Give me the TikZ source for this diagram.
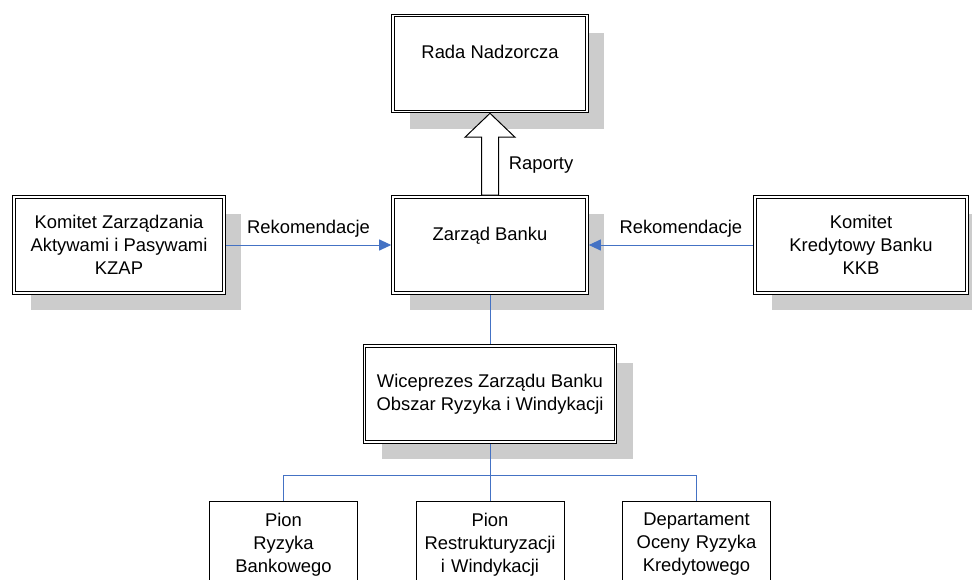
\documentclass[tikz,border=0pt]{standalone}
\usepackage{fontspec}
\setmainfont{Liberation Sans}
\usetikzlibrary{shadows, calc, arrows.meta}
\tikzset{>={Triangle[length=12pt, width=11pt]}}
\definecolor{linkblue}{RGB}{68,114,196}
\tikzset{
    box/.style={draw, line width=1pt, double=white, double distance=1.6pt, fill=white, outer sep=1.8pt,
        align=center, minimum height=96pt,
        drop shadow={shadow xshift=17pt, shadow yshift=-17pt, fill=black!20, opacity=1}},
    unit/.style={draw, line width=1pt, fill=white, align=center, anchor=north, text width=140pt,
        inner ysep=11.5pt, minimum width=148pt},
    link/.style={linkblue, line width=1pt},
}

\begin{document}
\begin{tikzpicture}[x=1pt, y=-1pt, font=\fontsize{18.4}{23}\selectfont]
    \useasboundingbox (0,0) rectangle (972,579);
    \clip (0,0) rectangle (972,579);
    \node [box, minimum width=194pt] (rada) at (490,63.5) {Rada Nadzorcza\\\mbox{}};
    \node [box, minimum width=194pt] (zarzad) at (490,245) {Zarząd Banku\\\mbox{}};
    \node [box, minimum width=210pt] (kzap) at (119,245) {Komitet Zarządzania\\Aktywami i Pasywami\\KZAP};
    \node [box, minimum width=212pt] (kkb) at (861,245) {Komitet\\Kredytowy Banku\\KKB};
    \node [box, minimum width=251pt] (wice) at (490,394) {Wiceprezes Zarządu Banku\\Obszar Ryzyka i Windykacji};
    \node [unit] (pionA) at (283.5,501) {Pion\\Ryzyka\\Bankowego};
    \node [unit] (pionB) at (490,501) {Pion\\Restrukturyzacji\\i Windykacji};
    \node [unit] (dep) at (696.5,501) {Departament\\Oceny Ryzyka\\Kredytowego};
    \coordinate (split) at ($(wice.south)+(0,32)$);
    \draw [fill=white, line width=1pt] ($(zarzad.north)+(-8.5,0)$) -- ++(0,-58) -- ++(-16.5,0) -- (rada.south)
        -- ($(zarzad.north)+(25,-58)$) -- ++(-16.5,0) -- ++(0,58) -- cycle;
    \node (rap) at (541,165.5) {Raporty};
    \draw [link, ->] (kzap.east) -- (zarzad.west) node [midway, above=4pt, text=black] (recA) {Rekomendacje};
    \draw [link, ->] (kkb.west) -- (zarzad.east) node [pos=0.44, above=4pt, text=black] (recB) {Rekomendacje};
    \draw [link] (zarzad.south) -- (wice.north);
    \draw [link] (wice.south) -- (pionB.north);
    \draw [link] (pionA.north) |- (split) -| (dep.north);
\end{tikzpicture}
\end{document}
